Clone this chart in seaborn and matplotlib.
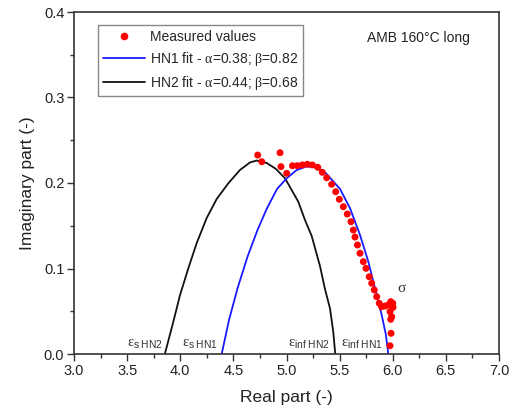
import matplotlib
matplotlib.use("Agg")
import matplotlib.pyplot as plt
import seaborn as sns
import pandas as pd
from matplotlib.lines import Line2D
from matplotlib.ticker import MultipleLocator, FormatStrFormatter

# ---- data ----
meas_real = [4.729, 4.767, 4.939, 4.948, 5.002, 5.056, 5.102, 5.149, 5.196, 5.243,
             5.294, 5.337, 5.378, 5.425, 5.463, 5.497, 5.535, 5.572, 5.607, 5.629,
             5.645, 5.668, 5.692, 5.723, 5.748, 5.779, 5.802, 5.826, 5.849, 5.873,
             5.896, 5.927, 5.958, 5.981, 6.000, 6.003, 5.974, 5.990, 5.981, 5.984, 5.974]
meas_imag = [0.2327, 0.2249, 0.2354, 0.2191, 0.2113, 0.2202, 0.2202, 0.2211, 0.2219, 0.2211,
             0.2184, 0.2125, 0.2062, 0.1985, 0.1898, 0.1809, 0.1723, 0.1637, 0.1547, 0.1450,
             0.1368, 0.1275, 0.1178, 0.1080, 0.1002, 0.0904, 0.0827, 0.0749, 0.0670, 0.0593,
             0.0553, 0.0561, 0.0573, 0.0612, 0.0593, 0.0546, 0.0495, 0.0436, 0.0406, 0.0242, 0.0097]

hn1_real = [4.390, 4.459, 4.539, 4.633, 4.727, 4.816, 4.911, 5.002, 5.096, 5.190,
            5.278, 5.372, 5.504, 5.598, 5.692, 5.770, 5.833, 5.896, 5.936, 5.958]
hn1_imag = [0.0, 0.0398, 0.0768, 0.1138, 0.1450, 0.1704, 0.1930, 0.2055, 0.2152, 0.2195,
            0.2181, 0.2113, 0.1930, 0.1704, 0.1392, 0.1080, 0.0768, 0.0456, 0.0222, 0.0]

hn2_real = [3.855, 3.935, 3.998, 4.076, 4.155, 4.249, 4.343, 4.452, 4.562, 4.656,
            4.720, 4.814, 4.901, 4.986, 5.111, 5.174, 5.237, 5.315, 5.362, 5.409, 5.440, 5.459]
hn2_imag = [0.0, 0.0378, 0.0690, 0.1002, 0.1298, 0.1591, 0.1813, 0.1996, 0.2152, 0.2240,
            0.2263, 0.2234, 0.2164, 0.2055, 0.1781, 0.1567, 0.1380, 0.1029, 0.0760, 0.0535, 0.0261, 0.0]

series_labels = ["Measured values",
                 r"HN1 fit - $\alpha$=0.38; $\beta$=0.82",
                 r"HN2 fit - $\alpha$=0.44; $\beta$=0.68"]
annot_text = "AMB 160°C long"
eps_labels = [r"$\varepsilon_{\mathrm{s\ HN2}}$", r"$\varepsilon_{\mathrm{s\ HN1}}$",
              r"$\varepsilon_{\mathrm{inf\ HN2}}$", r"$\varepsilon_{\mathrm{inf\ HN1}}$"]
eps_x = [3.835, 4.352, 5.405, 5.905]

# ---- style ----
sns.set_theme(style="ticks")
plt.rcParams["font.family"] = ["Liberation Sans", "DejaVu Sans"]
plt.rcParams["mathtext.fontset"] = "custom"
plt.rcParams["mathtext.rm"] = "Liberation Sans"
plt.rcParams["mathtext.it"] = "Liberation Serif"
plt.rcParams["mathtext.sf"] = "Liberation Sans"

fig = plt.figure(figsize=(5.19, 4.11), dpi=100)
ax = fig.add_axes([74/519, 57/411, 425/519, 342/411])

df_m = pd.DataFrame({"x": meas_real, "y": meas_imag})
df_1 = pd.DataFrame({"x": hn1_real, "y": hn1_imag})
df_2 = pd.DataFrame({"x": hn2_real, "y": hn2_imag})

sns.lineplot(data=df_2, x="x", y="y", sort=False, color="#111111", lw=1.3, ax=ax)
sns.lineplot(data=df_1, x="x", y="y", sort=False, color="#1a1aff", lw=1.3, ax=ax)
sns.scatterplot(data=df_m, x="x", y="y", color="#ff0000", s=25, edgecolor="none", ax=ax, zorder=3)

ax.set_xlim(3.0, 7.0)
ax.set_ylim(0.0, 0.4)
ax.xaxis.set_major_locator(MultipleLocator(0.5))
ax.xaxis.set_minor_locator(MultipleLocator(0.25))
ax.yaxis.set_major_locator(MultipleLocator(0.1))
ax.yaxis.set_minor_locator(MultipleLocator(0.05))
ax.tick_params(which="major", direction="out", length=5, width=1.0, color="#333333",
               labelsize=10.5, labelcolor="#222222", bottom=True, left=True, top=False, right=False, pad=2)
ax.tick_params(which="minor", direction="out", length=3, width=1.0, color="#333333",
               bottom=True, left=True, top=False, right=False)
ax.xaxis.set_major_formatter(FormatStrFormatter("%.1f"))
ax.yaxis.set_major_formatter(FormatStrFormatter("%.1f"))
for sp in ax.spines.values():
    sp.set_visible(True)
    sp.set_color("#333333")
    sp.set_linewidth(1.2)

ax.set_xlabel("Real part (-)", fontsize=12.5, color="#222222", labelpad=9)
ax.set_ylabel("Imaginary part (-)", fontsize=12.5, color="#222222", labelpad=6)

handles = [Line2D([], [], marker="o", ls="none", color="#ff0000", markersize=4.5),
           Line2D([], [], color="#1a1aff", lw=1.3),
           Line2D([], [], color="#111111", lw=1.3)]
leg = ax.legend(handles, series_labels, loc="upper left", bbox_to_anchor=(0.0565, 0.962),
                borderaxespad=0, fancybox=False, framealpha=1, edgecolor="#888888",
                fontsize=10, handlelength=3.0, handletextpad=0.4, labelspacing=0.42,
                borderpad=0.35)
leg.get_frame().set_linewidth(1.0)

ax.text(6.24, 0.370, annot_text, fontsize=10, ha="center", va="center", color="#222222")
for lab, xx in zip(eps_labels, eps_x):
    ax.text(xx, 0.008, lab, fontsize=10.5, ha="right", va="baseline", color="#333333")
ax.text(6.085, 0.077, r"$\sigma$", fontsize=11, ha="center", va="center", color="#333333")

fig.savefig("out.png", dpi=100)
